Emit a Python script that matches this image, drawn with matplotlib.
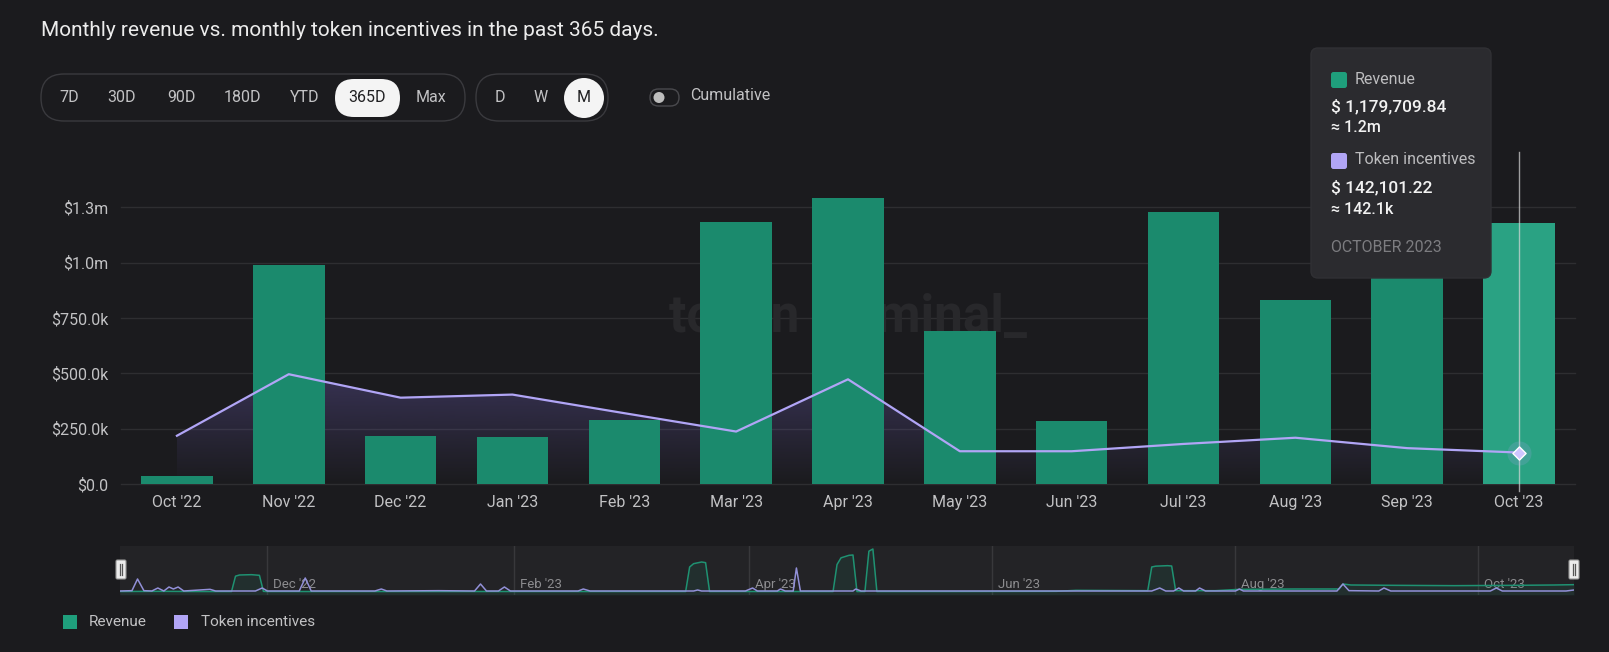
import matplotlib.pyplot as plt
import numpy as np
from matplotlib.patches import FancyBboxPatch, Rectangle, Circle, Polygon
from matplotlib.colors import to_rgb

plt.rcParams['font.family'] = ['Roboto', 'DejaVu Sans']

# ---- data -------------------------------------------------------------
months = ["Oct '22", "Nov '22", "Dec '22", "Jan '23", "Feb '23", "Mar '23", "Apr '23",
          "May '23", "Jun '23", "Jul '23", "Aug '23", "Sep '23", "Oct '23"]
revenue = [37e3, 988e3, 218e3, 213e3, 288e3, 1183e3, 1294e3,
           691e3, 283e3, 1229e3, 830e3, 1100e3, 1179709.84]
incentives = [218e3, 496e3, 390e3, 404e3, 320e3, 237e3, 473e3,
              148e3, 148e3, 181e3, 209e3, 162e3, 142101.22]
ytick_vals = [0, 250e3, 500e3, 750e3, 1.0e6, 1.25e6]
ytick_labels = ["$0.0", "$250.0k", "$500.0k", "$750.0k", "$1.0m", "$1.3m"]

# navigator (daily, $k, days after 2022-10-25)
nav_start = np.datetime64('2022-10-25')
nav_rev_days = [0, 10, 20, 28, 29, 30, 33, 35, 36, 37, 60, 90, 120, 142, 143, 144, 146, 147, 148, 160,
                179, 180, 181, 183, 184, 185, 187, 188, 189, 190, 210, 235, 240, 258, 259, 260, 263, 264, 265, 275,
                281, 295, 306, 307, 309, 320, 335, 350, 360, 365]
nav_rev = [3, 4, 3, 3, 95, 102, 104, 100, 4, 3, 3, 3, 3, 3, 150, 170, 180, 176, 3, 3,
           3, 165, 205, 220, 222, 3, 3, 245, 258, 3, 3, 4, 10, 8, 150, 155, 158, 156, 8, 8,
           16, 18, 18, 48, 42, 40, 38, 40, 42, 44]
nav_inc_days = [0, 3, 4.4, 6, 8, 9.5, 11, 12.3, 13.4, 14.6, 16, 22.6, 24, 34, 35.7, 37, 45, 46.5, 48,
                64, 65.6, 67, 80, 89, 90.5, 92, 95, 96.5, 98, 115, 116.3, 118, 144, 145, 146,
                157, 158.8, 160, 165, 165.8, 167, 169, 169.8, 170.8, 184, 184.7, 186,
                259, 261, 262.5, 264.5, 265.8, 267, 270, 271, 272.5, 280, 281, 282,
                305.5, 307, 308.5, 316, 317.3, 319, 344, 345.5, 347, 363, 365]
nav_inc = [6, 8, 78, 8, 6, 24, 6, 30, 18, 30, 6, 16, 6, 6, 24, 6, 6, 84, 6,
           6, 18, 6, 8, 6, 48, 6, 6, 30, 6, 6, 18, 6, 6, 12, 6,
           6, 24, 6, 6, 18, 6, 6, 144, 6, 6, 18, 6,
           6, 24, 6, 6, 24, 6, 6, 24, 6, 6, 18, 6,
           6, 48, 8, 6, 24, 6, 6, 24, 6, 6, 12]
nav_month_dates = ['2022-12-01', '2023-02-01', '2023-04-01', '2023-06-01', '2023-08-01', '2023-10-01']
nav_month_labels = ["Dec '22", "Feb '23", "Apr '23", "Jun '23", "Aug '23", "Oct '23"]

range_buttons = ['7D', '30D', '90D', '180D', 'YTD', '365D', 'Max']
gran_buttons = ['D', 'W', 'M']

# ---- style ------------------------------------------------------------
BG = '#1b1b1e'
GREEN = '#1b8a6d'
GREEN_HI = '#2aa283'
PURPLE = '#b1a5f6'
TXT = '#c2c2c4'
W, H = 1609, 652

fig = plt.figure(figsize=(W / 100, H / 100), dpi=100, facecolor=BG)

# ---- main chart ---------------------------------------------------------
ax = fig.add_axes([121 / W, 1 - 484 / H, (1575 - 121) / W, (484 - 152) / H])
ax.set_facecolor(BG)
x = np.arange(len(months))

for v in ytick_vals:
    ax.axhline(v, color='#2e2e31', lw=1, zorder=0.5, clip_on=False)

ax.text(0.5, 0.5, 'token terminal_', transform=ax.transAxes, fontsize=37,
        fontweight='bold', color='#28282b', ha='center', va='center', zorder=0.8)

# gradient area under incentives line
poly = Polygon(np.column_stack([np.r_[x[0], x, x[-1]], np.r_[0, incentives, 0]]),
               closed=True, facecolor='none', edgecolor='none')
ax.add_patch(poly)
grad = np.zeros((256, 1, 4))
grad[:, 0, :3] = to_rgb('#7a68d0')
grad[:, 0, 3] = np.linspace(0.30, 0.0, 256)
im = ax.imshow(grad, extent=[x[0], x[-1], 0, max(incentives)], aspect='auto',
               origin='upper', zorder=1)
im.set_clip_path(poly)

bar_colors = [GREEN] * (len(x) - 1) + [GREEN_HI]
ax.bar(x, revenue, width=0.64, color=bar_colors, zorder=2)
ax.plot(x, incentives, color=PURPLE, lw=1.6, zorder=3)

# hover crosshair + point
ax.axvline(x[-1], ymin=-0.02, ymax=1, color='#d8d8d8', lw=1, alpha=0.7, zorder=4, clip_on=False)
ax.scatter([x[-1]], [incentives[-1]], s=300, color=PURPLE, alpha=0.18, zorder=5, linewidths=0)
ax.scatter([x[-1]], [incentives[-1]], s=45, marker='D', facecolor='#cfc6ff',
           edgecolor='white', linewidths=1, zorder=6)

ax.set_xlim(-0.5, len(months) - 0.5)
ax.set_ylim(0, 1.5e6)
ax.set_xticks(x)
ax.set_xticklabels(months)
ax.set_yticks(ytick_vals)
ax.set_yticklabels(ytick_labels)
ax.tick_params(length=0, colors=TXT, labelsize=11.5)
ax.tick_params(axis='y', pad=9)
ax.tick_params(axis='x', pad=8)
for s in ax.spines.values():
    s.set_visible(False)

# ---- navigator ----------------------------------------------------------
nav = fig.add_axes([120 / W, 1 - 595 / H, (1574 - 120) / W, (595 - 546) / H])
nav.set_facecolor('#232326')
for d, lab in zip(nav_month_dates, nav_month_labels):
    dd = (np.datetime64(d) - nav_start).astype(int)
    nav.axvline(dd, color='#38383b', lw=1, zorder=0)
    nav.text(dd + 1.3, 0.22, lab, transform=nav.get_xaxis_transform(),
             color='#8c8c8f', fontsize=9.5, va='center', zorder=1)
nav.fill_between(nav_rev_days, nav_rev, -18, color=GREEN, alpha=0.12, lw=0, zorder=1.5)
nav.plot(nav_rev_days, nav_rev, color='#1f9272', lw=1.1, zorder=2)
nav.plot(nav_inc_days, nav_inc, color='#9290d8', lw=1.1, zorder=3)
nav.set_xlim(0, 365)
nav.set_ylim(-18, 276)
nav.set_xticks([])
nav.set_yticks([])
for s in nav.spines.values():
    s.set_visible(False)

# ---- overlay (controls, tooltip, legend) --------------------------------
ov = fig.add_axes([0, 0, 1, 1], zorder=10)
ov.set_xlim(0, W)
ov.set_ylim(H, 0)
ov.axis('off')
ov.patch.set_alpha(0)

ov.text(41, 30, 'Monthly revenue vs. monthly token incentives in the past 365 days.',
        color='#ececec', fontsize=15, va='center', ha='left')

# range buttons
ov.add_patch(FancyBboxPatch((41, 74), 424, 47, boxstyle='round,pad=0,rounding_size=23',
                            facecolor='none', edgecolor='#3a3a3e', lw=1))
ov.add_patch(FancyBboxPatch((335, 79), 65, 38, boxstyle='round,pad=0,rounding_size=19',
                            facecolor='#f4f4f4', edgecolor='none'))
for bx, lab in zip([69, 122, 181, 242, 305, 367, 431], range_buttons):
    ov.text(bx, 98, lab, color='#202022' if lab == '365D' else TXT,
            fontsize=11.5, ha='center', va='center')

ov.add_patch(FancyBboxPatch((476, 74), 132, 47, boxstyle='round,pad=0,rounding_size=23',
                            facecolor='none', edgecolor='#3a3a3e', lw=1))
ov.add_patch(Circle((584, 98), 20, facecolor='#f4f4f4', edgecolor='none'))
for bx, lab in zip([500, 541, 584], gran_buttons):
    ov.text(bx, 98, lab, color='#202022' if lab == 'M' else TXT,
            fontsize=11.5, ha='center', va='center')

# cumulative toggle
ov.add_patch(FancyBboxPatch((650, 89), 29, 17, boxstyle='round,pad=0,rounding_size=8.5',
                            facecolor='none', edgecolor='#4a4a4e', lw=1))
ov.add_patch(Circle((659, 97.5), 5.5, facecolor='#bdbdbd', edgecolor='none'))
ov.text(690, 96, 'Cumulative', color=TXT, fontsize=11.5, va='center')

# tooltip
ov.add_patch(FancyBboxPatch((1311, 48), 180, 230, boxstyle='round,pad=0,rounding_size=7',
                            facecolor='#2b2b2f', edgecolor='#303034', lw=1))
ov.add_patch(FancyBboxPatch((1331, 72), 16, 16, boxstyle='round,pad=0,rounding_size=2.5',
                            facecolor='#1f9f7c', edgecolor='none'))
ov.text(1355, 80, 'Revenue', color='#bdbdbf', fontsize=11.5, va='center')
ov.text(1331, 107, f"$ {revenue[-1]:,.2f}", color='#f2f2f2', fontsize=12.5,
        fontweight='medium', va='center')
ov.text(1331, 128, f"≈ {revenue[-1] / 1e6:.1f}m", color='#f2f2f2', fontsize=11.5,
        fontweight='medium', va='center')
ov.add_patch(FancyBboxPatch((1331, 153), 16, 16, boxstyle='round,pad=0,rounding_size=2.5',
                            facecolor=PURPLE, edgecolor='none'))
ov.text(1355, 160, 'Token incentives', color='#bdbdbf', fontsize=11.5, va='center')
ov.text(1331, 188, f"$ {incentives[-1]:,.2f}", color='#f2f2f2', fontsize=12.5,
        fontweight='medium', va='center')
ov.text(1331, 210, f"≈ {incentives[-1] / 1e3:.1f}k", color='#f2f2f2', fontsize=11.5,
        fontweight='medium', va='center')
ov.text(1331, 248, 'OCTOBER 2023', color='#7c7c80', fontsize=11.5, va='center')

# navigator handles
for hx in (116, 1569):
    ov.add_patch(FancyBboxPatch((hx, 560), 10, 19, boxstyle='round,pad=0,rounding_size=1.5',
                                facecolor='#ececec', edgecolor='#999999', lw=0.8))
    ov.plot([hx + 4, hx + 4], [564, 575], color='#555555', lw=0.9)
    ov.plot([hx + 6, hx + 6], [564, 575], color='#555555', lw=0.9)

# legend
ov.add_patch(Rectangle((63, 615), 14, 14, facecolor='#1f9f7c', edgecolor='none'))
ov.text(89, 622, 'Revenue', color=TXT, fontsize=11, va='center')
ov.add_patch(Rectangle((174, 615), 14, 14, facecolor=PURPLE, edgecolor='none'))
ov.text(201, 622, 'Token incentives', color=TXT, fontsize=11, va='center')

fig.savefig('out.png', dpi=100, facecolor=BG)
